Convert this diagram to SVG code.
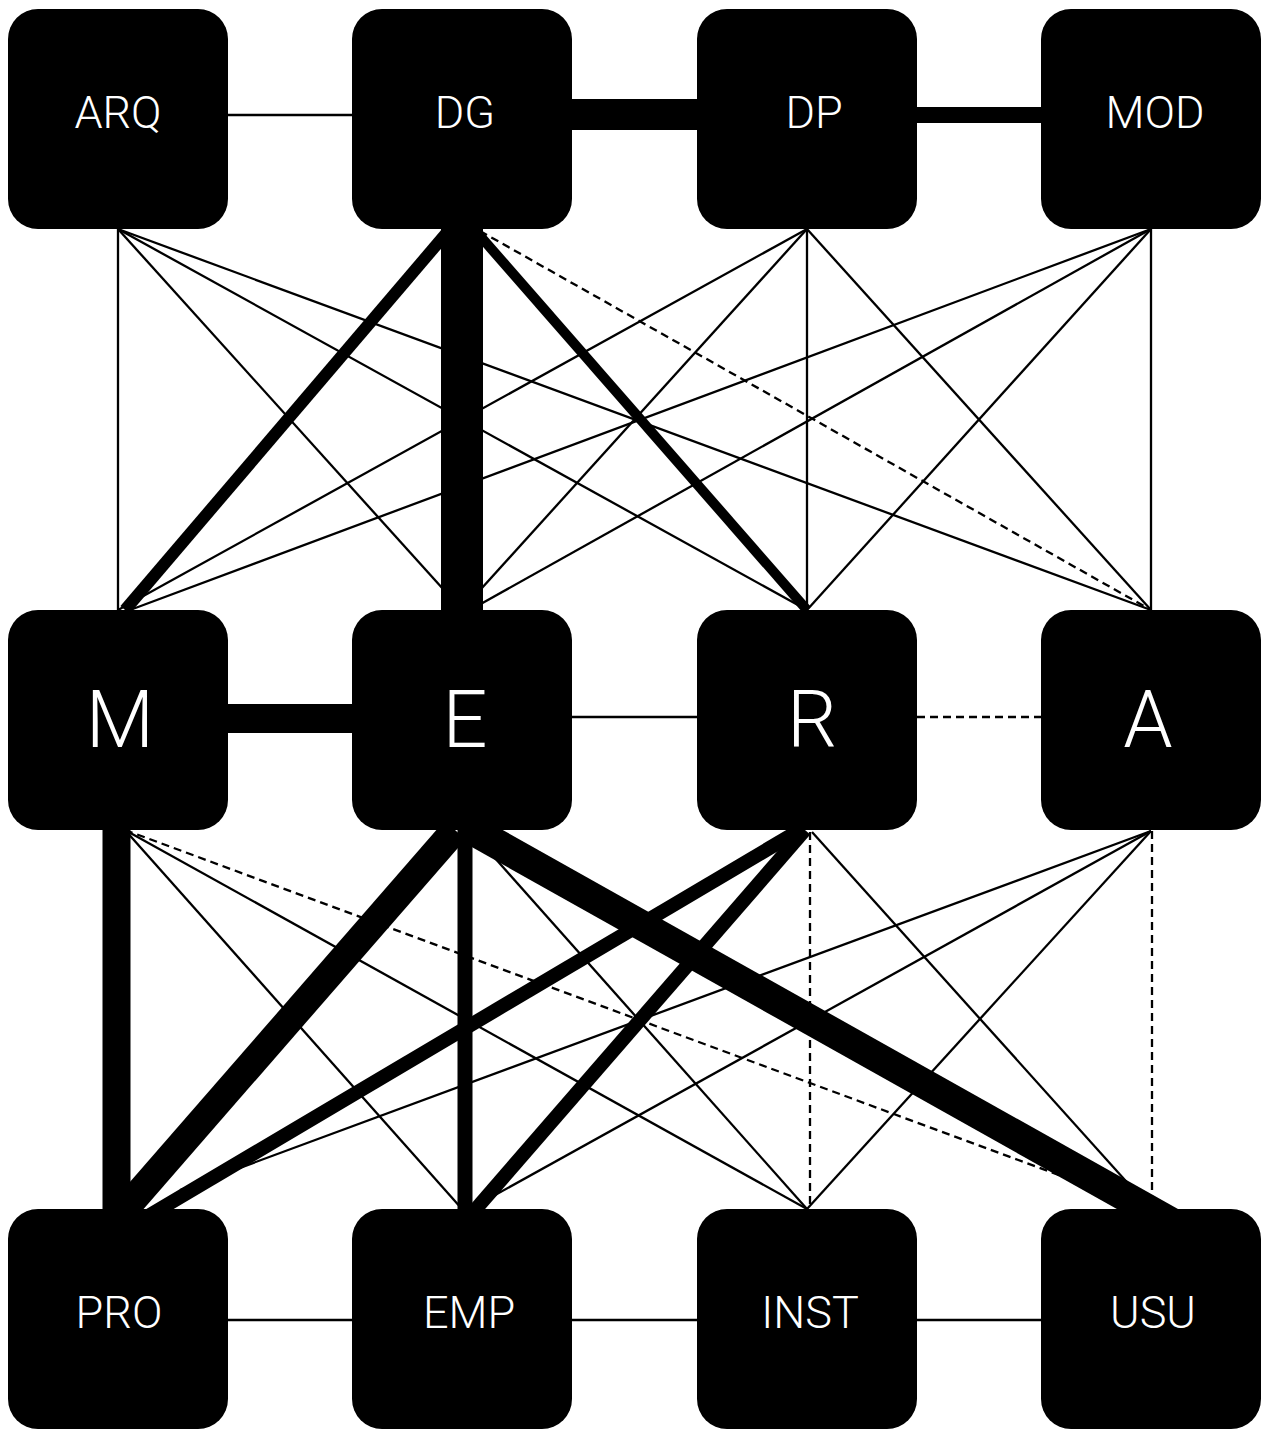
<svg xmlns="http://www.w3.org/2000/svg" width="1271" height="1430" viewBox="0 0 1271 1430">
<style>
.e{stroke:#000;fill:none;stroke-linecap:butt}
.t{stroke-width:2.3}
.d{stroke-width:2.3;stroke-dasharray:8 5}
.n{fill:#000}
.l{fill:#fff;font-family:Roboto,"Liberation Sans",sans-serif;font-weight:300;text-anchor:middle}
.s{font-size:45px}
.b{font-size:79px}
</style>
<rect width="1271" height="1430" fill="#fff"/>
<g id="connectors">
<line class="e t" x1="228" y1="115" x2="352" y2="115"/>
<line class="e" stroke-width="31" x1="572" y1="114.5" x2="697" y2="114.5"/>
<line class="e" stroke-width="16" x1="917" y1="115" x2="1041" y2="115"/>
<line class="e" stroke-width="29" x1="228" y1="718.5" x2="352" y2="718.5"/>
<line class="e t" x1="572" y1="717" x2="697" y2="717"/>
<line class="e d" x1="917" y1="717" x2="1041" y2="717"/>
<line class="e t" x1="228" y1="1320" x2="352" y2="1320"/>
<line class="e t" x1="572" y1="1320" x2="697" y2="1320"/>
<line class="e t" x1="917" y1="1320" x2="1041" y2="1320"/>
<line class="e t" x1="118" y1="229" x2="118" y2="610"/>
<line class="e t" x1="118" y1="229" x2="462" y2="610"/>
<line class="e t" x1="118" y1="229" x2="807" y2="610"/>
<line class="e t" x1="118" y1="229" x2="1151" y2="610"/>
<line class="e" stroke-width="12" x1="450" y1="229" x2="125" y2="610"/>
<line class="e" stroke-width="42" x1="462" y1="229" x2="462" y2="610"/>
<line class="e" stroke-width="10" x1="474" y1="229" x2="807" y2="610"/>
<line class="e d" x1="480" y1="231" x2="1151" y2="610"/>
<line class="e t" x1="807" y1="229" x2="118" y2="610"/>
<line class="e t" x1="807" y1="229" x2="462" y2="610"/>
<line class="e t" x1="807" y1="229" x2="807" y2="610"/>
<line class="e t" x1="807" y1="229" x2="1151" y2="610"/>
<line class="e t" x1="1151" y1="229" x2="130" y2="610"/>
<line class="e t" x1="1151" y1="229" x2="470" y2="610"/>
<line class="e t" x1="1151" y1="229" x2="807" y2="610"/>
<line class="e t" x1="1151" y1="229" x2="1151" y2="610"/>
<line class="e" stroke-width="28" x1="116.5" y1="830" x2="116.5" y2="1209"/>
<line class="e t" x1="125" y1="830" x2="462" y2="1209"/>
<line class="e t" x1="125" y1="830" x2="807" y2="1209"/>
<line class="e d" x1="125" y1="830" x2="1151" y2="1209"/>
<line class="e" stroke-width="28" x1="455" y1="830" x2="125" y2="1209"/>
<line class="e" stroke-width="15" x1="465" y1="830" x2="465" y2="1209"/>
<line class="e t" x1="470" y1="830" x2="807" y2="1209"/>
<line class="e" stroke-width="30" x1="472" y1="830" x2="1176" y2="1225"/>
<line class="e" stroke-width="14" x1="800" y1="830" x2="133" y2="1225"/>
<line class="e" stroke-width="14" x1="805" y1="830" x2="462" y2="1225"/>
<line class="e d" x1="810" y1="832" x2="810" y2="1209"/>
<line class="e t" x1="812" y1="832" x2="1151" y2="1209"/>
<line class="e t" x1="1151" y1="831" x2="180" y2="1190"/>
<line class="e t" x1="1151" y1="831" x2="470" y2="1209"/>
<line class="e t" x1="1151" y1="831" x2="807" y2="1209"/>
<line class="e d" x1="1152" y1="831" x2="1152" y2="1209"/>
</g>
<g id="node-ARQ"><rect class="n" x="8" y="9" width="220" height="220" rx="30"/><text class="l s" x="118" y="128">ARQ</text></g>
<g id="node-DG"><rect class="n" x="352" y="9" width="220" height="220" rx="30"/><text class="l s" x="465" y="128">DG</text></g>
<g id="node-DP"><rect class="n" x="697" y="9" width="220" height="220" rx="30"/><text class="l s" x="814" y="128">DP</text></g>
<g id="node-MOD"><rect class="n" x="1041" y="9" width="220" height="220" rx="30"/><text class="l s" x="1155" y="128">MOD</text></g>
<g id="node-M"><rect class="n" x="8" y="610" width="220" height="220" rx="30"/><text class="l b" x="120" y="747">M</text></g>
<g id="node-E"><rect class="n" x="352" y="610" width="220" height="220" rx="30"/><text class="l b" x="465" y="747">E</text></g>
<g id="node-R"><rect class="n" x="697" y="610" width="220" height="220" rx="30"/><text class="l b" x="812" y="747">R</text></g>
<g id="node-A"><rect class="n" x="1041" y="610" width="220" height="220" rx="30"/><text class="l b" x="1148" y="747">A</text></g>
<g id="node-PRO"><rect class="n" x="8" y="1209" width="220" height="220" rx="30"/><text class="l s" x="119" y="1328">PRO</text></g>
<g id="node-EMP"><rect class="n" x="352" y="1209" width="220" height="220" rx="30"/><text class="l s" x="469" y="1328">EMP</text></g>
<g id="node-INST"><rect class="n" x="697" y="1209" width="220" height="220" rx="30"/><text class="l s" x="810" y="1328">INST</text></g>
<g id="node-USU"><rect class="n" x="1041" y="1209" width="220" height="220" rx="30"/><text class="l s" x="1153" y="1328">USU</text></g>
</svg>
